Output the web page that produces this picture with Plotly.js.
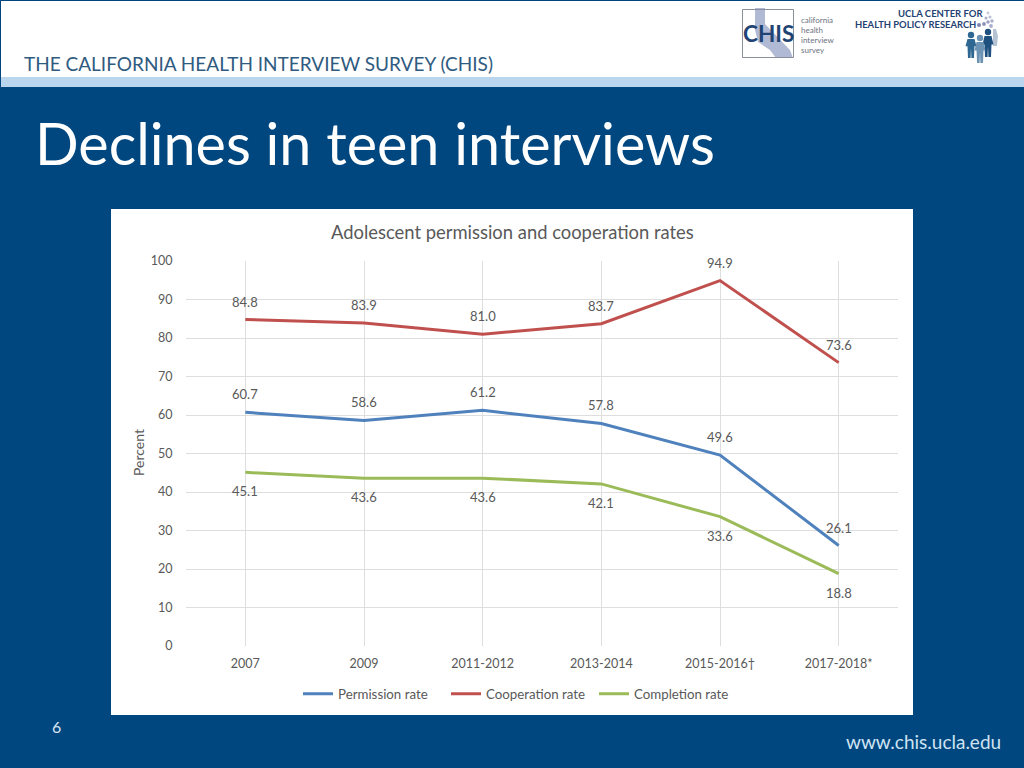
<!DOCTYPE html>
<html><head><meta charset="utf-8">
<script src="https://cdn.plot.ly/plotly-3.0.1.min.js"></script>
<style>html,body{margin:0;padding:0;background:#00477f;overflow:hidden}#c{width:1024px;height:768px}</style>
</head><body><div id="c"></div>
<script>
const categories = ["2007","2009","2011-2012","2013-2014","2015-2016†","2017-2018*"];
const permission = [60.7,58.6,61.2,57.8,49.6,26.1];
const cooperation = [84.8,83.9,81.0,83.7,94.9,73.6];
const completion = [45.1,43.6,43.6,42.1,33.6,18.8];
const yTicks = [0,10,20,30,40,50,60,70,80,90,100];

const FONT = "Lato, 'Open Sans', sans-serif";
const GREY = "#595959";
const L=186,R=898,T=261,B=646;
const px = x => (x-L)/(R-L);
const py = y => (B-y)/(B-T);
const rect=(x0,y0,x1,y1,fill,line,layer)=>({type:"rect",xref:"paper",yref:"paper",x0:px(x0),x1:px(x1),y0:py(y0),y1:py(y1),fillcolor:fill,line:line||{width:0},layer:layer||"below"});
const circ=(cx,cy,r,fill)=>({type:"circle",xref:"paper",yref:"paper",x0:px(cx-r),x1:px(cx+r),y0:py(cy-r),y1:py(cy+r),fillcolor:fill,line:{width:0},layer:"below"});
const poly=(pts,fill)=>({type:"path",xref:"paper",yref:"paper",path:"M"+pts.map(p=>px(p[0]).toFixed(4)+","+py(p[1]).toFixed(4)).join("L")+"Z",fillcolor:fill,line:{width:0},layer:"below"});
const txt=(x,y,text,size,color,anchor,extra)=>Object.assign({xref:"paper",yref:"paper",x:px(x),y:py(y),text,showarrow:false,xanchor:anchor||"left",yanchor:"middle",font:{family:FONT,size,color},borderpad:0},extra||{});

function person(cx,top,h,col){
  return [circ(cx,top+3,3.2,col),
    poly([[cx-3.5,top+7],[cx+3.5,top+7],[cx+5.5,top+h*0.55],[cx+3.5,top+h*0.55],[cx+3,top+h],[cx+0.4,top+h],[cx,top+h*0.62],[cx-0.4,top+h],[cx-3,top+h],[cx-3.5,top+h*0.55],[cx-5.5,top+h*0.55]],col)];
}

const shapes=[
  rect(0,0,1024,768,"#00477f"),
  rect(1,1,1024,77,"#ffffff"),
  rect(1,77,1024,87,"#bad6ef"),
  rect(111,209,913,715,"#ffffff"),
  poly([[755,8],[765,8],[765,24],[790,50],[793,58],[776,58],[770,50],[758,42],[755,30]],"#b1bad4"),
  rect(742.5,9.5,793.5,57.5,"rgba(0,0,0,0)",{color:"#8a8f9c",width:1}),
  circ(988,13,1.4,"#c5cadd"),circ(990,17,1.5,"#b9bfd6"),circ(986,18,1.5,"#a9aecb"),circ(992,21,1.7,"#a9aecb"),circ(988,22,1.7,"#9a9fc3"),
  circ(984,24,1.9,"#8f92bb"),circ(991,26,1.9,"#a9aecb"),circ(979,25,2,"#7f85b3"),
  poly([[993,29],[996,29],[998,36],[997,46],[993,46]],"#b5c2d2"),
  ...person(971,32,26,"#2f6793"),
  ...person(988,29,28,"#1d4f7f"),
  ...person(980,35,28,"#6c93b3")
];

const labelAnn=(arr,shift)=>arr.map((v,i)=>({xref:"x",yref:"y",x:i,y:v,text:v.toFixed(1),showarrow:false,yshift:shift,xanchor:"center",yanchor:"middle",font:{family:FONT,size:13,color:GREY}}));

const annotations=[
  txt(23,63,"THE CALIFORNIA HEALTH INTERVIEW SURVEY (CHIS)",19,"#2f5b80"),
  txt(34,143,"Declines in teen interviews",57.5,"#ffffff"),
  txt(512,232,"Adolescent permission and cooperation rates",18.4,GREY,"center"),
  txt(138,453,"Percent",14,GREY,"center",{textangle:-90}),
  txt(56,726,"6",16,"#d9e6f2","center"),
  txt(845,741,"www.chis.ucla.edu",19,"#cfe3f2"),
  txt(742,34,"<b>CHIS</b>",22.5,"#1f4373"),
  txt(800,19.5,"california",8,"#6b7280"),
  txt(800,29.5,"health",8,"#6b7280"),
  txt(800,39.5,"interview",8,"#6b7280"),
  txt(800,49.5,"survey",8,"#6b7280"),
  txt(984,14,"<b>UCLA CENTER FOR</b>",9.5,"#1f4373","right"),
  txt(977,24.5,"<b>HEALTH POLICY RESEARCH</b>",9.4,"#1f4373","right"),
  ...labelAnn(permission,18),
  ...labelAnn(cooperation,18),
  ...labelAnn(completion,-19)
];

const series=(name,y,color)=>({type:"scatter",mode:"lines",name,x:categories.map((_,i)=>i),y,line:{color,width:3,shape:"linear"},hoverinfo:"skip"});
const data=[series("Permission rate",permission,"#4f81bd"),series("Cooperation rate",cooperation,"#c0504d"),series("Completion rate",completion,"#9bbb59")];

const layout={
  width:1024,height:768,margin:{l:L,r:1024-R,t:T,b:768-B,pad:0},
  paper_bgcolor:"#00477f",plot_bgcolor:"rgba(0,0,0,0)",
  font:{family:FONT,size:13,color:GREY},showlegend:true,
  legend:{orientation:"h",x:px(520),y:py(694),xanchor:"center",yanchor:"middle",bgcolor:"rgba(0,0,0,0)",font:{family:FONT,size:13.3,color:GREY},itemwidth:30,entrywidth:103,entrywidthmode:"pixels",traceorder:"normal"},
  xaxis:{type:"linear",range:[-0.5,5.5],tickmode:"array",tickvals:categories.map((_,i)=>i),ticktext:categories,showgrid:true,gridcolor:"#dedede",gridwidth:1,zeroline:false,showline:false,ticks:"outside",ticklen:6,tickcolor:"rgba(0,0,0,0)",tickfont:{family:FONT,size:12.5,color:GREY}},
  yaxis:{range:[0,100],tickmode:"array",tickvals:yTicks,showgrid:true,gridcolor:"#dedede",gridwidth:1,zeroline:false,showline:false,ticks:"outside",ticklen:10,tickcolor:"rgba(0,0,0,0)",tickfont:{family:FONT,size:12.5,color:GREY}},
  shapes,annotations
};
Plotly.newPlot("c",data,layout,{displayModeBar:false,staticPlot:true});
</script></body></html>
